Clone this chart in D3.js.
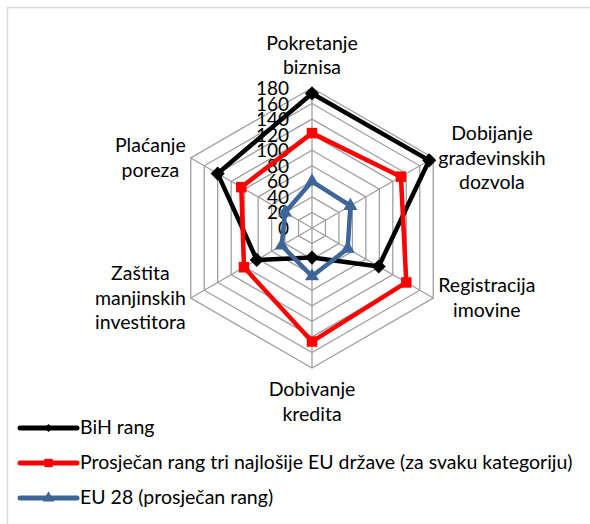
<!DOCTYPE html>
<html lang="bs">
<head>
<meta charset="UTF-8">
<title>Radar - rang</title>
<script src="https://cdn.jsdelivr.net/npm/d3@7/dist/d3.min.js"></script>
<style>
  body { margin: 0; background: #fff; }
  text { font-family: Lato, "Open Sans", sans-serif; fill: #000; }
</style>
</head>
<body>
<script>
    // categories (clockwise from the top), each split into its label lines
    var categories = [
        ["Pokretanje", "biznisa"],
        ["Dobijanje", "građevinskih", "dozvola"],
        ["Registracija", "imovine"],
        ["Dobivanje", "kredita"],
        ["Zaštita", "manjinskih", "investitora"],
        ["Plaćanje", "poreza"]
    ];
    var bihRang = [173, 174, 99, 38, 82, 140];
    var najlosijeEU = [122, 132, 140, 146, 101, 105];
    var eu28 = [60, 57, 53, 62, 45, 40];
    var tickValues = [0, 20, 40, 60, 80, 100, 120, 140, 160, 180];
    var seriesNames = ["BiH rang",
        "Prosječan rang tri najlošije EU države (za svaku kategoriju)",
        "EU 28 (prosječan rang)"];

    var width = 590, height = 524;
    var cx = 312, cy = 228;

    var svg = d3.select("body").append("svg")
        .attr("width", width)
        .attr("height", height);

    // chart area frame (only top and left edges are visible)
    svg.append("path")
        .attr("d", "M7.5," + height + "V7.5H" + width)
        .attr("fill", "none")
        .attr("stroke", "#d9d9d9")
        .attr("stroke-width", 1.5);

    var r = d3.scaleLinear()
        .domain([0, 180])
        .range([0, 140]);

    var angle = d3.scaleLinear()
        .domain([0, categories.length])
        .range([0, 2 * Math.PI]);

    var chart = svg.append("g")
        .attr("transform", "translate(" + cx + "," + cy + ")");

    var radial = d3.lineRadial()
        .angle(function (d, i) { return angle(i); })
        .radius(function (d) { return r(d); })
        .curve(d3.curveLinearClosed);

    // grid rings
    chart.selectAll(".ring")
        .data(tickValues.slice(1))
        .enter()
        .append("path")
        .attr("class", "ring")
        .attr("d", function (t) {
            return radial(categories.map(function () { return t; }));
        })
        .attr("fill", "none")
        .attr("stroke", "#9f9f9f")
        .attr("stroke-width", 1.3);

    // spokes
    chart.selectAll(".spoke")
        .data(categories)
        .enter()
        .append("line")
        .attr("class", "spoke")
        .attr("x1", 0).attr("y1", 0)
        .attr("x2", function (d, i) { return r(180) * Math.sin(angle(i)); })
        .attr("y2", function (d, i) { return -r(180) * Math.cos(angle(i)); })
        .attr("stroke", "#9f9f9f")
        .attr("stroke-width", 1.3);

    // value axis labels
    chart.selectAll(".tick")
        .data(tickValues)
        .enter()
        .append("text")
        .attr("class", "tick")
        .attr("x", -23)
        .attr("y", function (d) { return -r(d) + 7; })
        .attr("text-anchor", "end")
        .style("font-size", "19px")
        .text(function (d) { return d; });

    // category labels
    var labels = chart.selectAll(".cat")
        .data(categories)
        .enter()
        .append("g")
        .attr("class", "cat");

    labels.each(function (lines, i) {
        var g = d3.select(this);
        var txt = g.append("text")
            .attr("text-anchor", "middle")
            .style("font-size", "19.5px");
        lines.forEach(function (l, k) {
            txt.append("tspan").attr("x", 0).attr("y", k * 24.5).text(l);
        });
        var bb = txt.node().getBBox();
        var a = angle(i);
        var vx = r(180) * Math.sin(a), vy = -r(180) * Math.cos(a);
        var tx, ty;
        if (Math.abs(Math.sin(a)) < 0.1) {
            tx = vx;
            ty = Math.cos(a) > 0 ? vy - 10 - (bb.y + bb.height) : vy + 9 - bb.y;
        } else {
            tx = Math.sin(a) > 0 ? vx + 5 + bb.width / 2 : vx - 5 - bb.width / 2;
            ty = vy - 1 - (bb.y + bb.height / 2);
        }
        g.attr("transform", "translate(" + tx + "," + ty + ")");
    });

    // series
    var diamond = d3.symbol().type(d3.symbolSquare);
    var series = [
        {name: seriesNames[0], values: bihRang, color: "#000000",
            symbol: d3.symbol().type(d3.symbolSquare).size(100), rotate: 45,
            legendSymbol: d3.symbol().type(d3.symbolSquare).size(32)},
        {name: seriesNames[1], values: najlosijeEU, color: "#ff0000",
            symbol: d3.symbol().type(d3.symbolSquare).size(110), rotate: 0,
            legendSymbol: d3.symbol().type(d3.symbolSquare).size(70)},
        {name: seriesNames[2], values: eu28, color: "#3d6598",
            symbol: d3.symbol().type(d3.symbolTriangle).size(85), rotate: 0,
            legendSymbol: d3.symbol().type(d3.symbolTriangle).size(60)}
    ];

    series.forEach(function (s) {
        chart.append("path")
            .attr("d", radial(s.values))
            .attr("fill", "none")
            .attr("stroke", s.color)
            .attr("stroke-width", 4.5)
            .attr("stroke-linejoin", "round");

        chart.selectAll(null)
            .data(s.values)
            .enter()
            .append("path")
            .attr("d", s.symbol())
            .attr("fill", s.color)
            .attr("transform", function (d, i) {
                var x = r(d) * Math.sin(angle(i)), y = -r(d) * Math.cos(angle(i));
                return "translate(" + x + "," + y + ") rotate(" + s.rotate + ")";
            });
    });

    // legend
    var legendY = d3.scalePoint()
        .domain(seriesNames)
        .range([428, 498]);

    var legend = svg.selectAll(".legend")
        .data(series)
        .enter()
        .append("g")
        .attr("class", "legend")
        .attr("transform", function (d) { return "translate(20," + legendY(d.name) + ")"; });

    legend.append("line")
        .attr("x1", 0).attr("x2", 57)
        .attr("stroke", function (d) { return d.color; })
        .attr("stroke-width", 5)
        .attr("stroke-linecap", "round");

    legend.append("path")
        .attr("d", function (d) { return d.legendSymbol(); })
        .attr("fill", function (d) { return d.color; })
        .attr("transform", function (d) { return "translate(28.5,0) rotate(" + d.rotate + ")"; });

    legend.append("text")
        .attr("x", 60)
        .attr("y", 6)
        .style("font-size", "19.5px")
        .text(function (d) { return d.name; });
</script>
</body>
</html>
